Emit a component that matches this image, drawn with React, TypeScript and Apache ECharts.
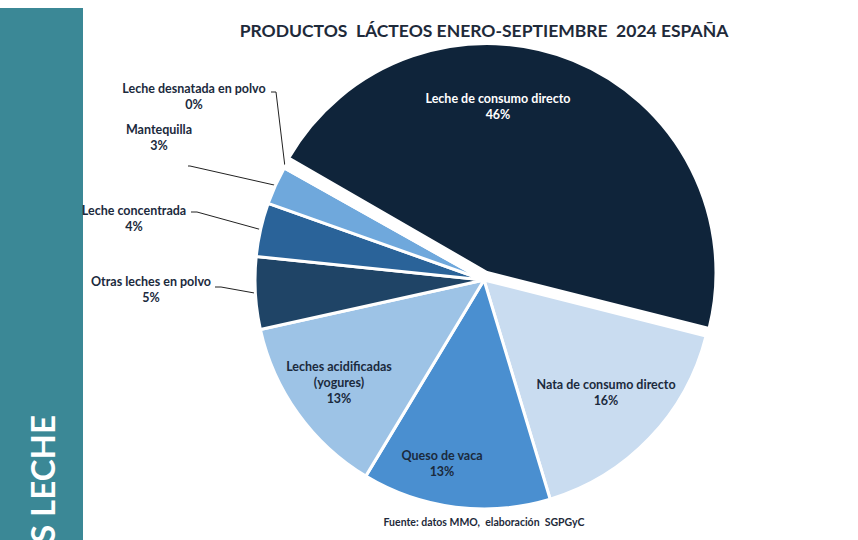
import React, { useEffect, useRef } from "react";
import * as echarts from "echarts";

const categories = [
  "Leche de consumo directo",
  "Nata de consumo directo",
  "Queso de vaca",
  "Leches acidificadas (yogures)",
  "Otras leches en polvo",
  "Leche concentrada",
  "Mantequilla",
  "Leche desnatada en polvo",
];
const values = [45.6, 16.4, 13.3, 12.9, 5.1, 3.8, 2.7, 0.2];
const colors = ["#0f243a", "#c9dcf0", "#4a8fd0", "#9dc3e6", "#1f4466", "#2a6399", "#6fa8dc", "#deebf7"];
const insideLabel = [true, true, true, true, false, false, false, false];
const exploded = [true, false, false, false, false, false, false, false];

const titleText = "PRODUCTOS  LÁCTEOS ENERO-SEPTIEMBRE  2024 ESPAÑA";
const sourceText = "Fuente: datos MMO,  elaboración  SGPGyC";
const bandText = "S LECHE";

// label placement (style)
const labelPos: number[][] = [
  [498, 106], [606, 392], [442, 463], [339, 382],
  [151, 289], [134, 218], [159, 137], [194, 96],
];
const linePts: (number[][] | null)[] = [
  null, null, null, null,
  [[221, 287], [215, 287]],
  [[197, 212], [191, 212]],
  [[190, 166], [188, 166]],
  [[276, 92], [271, 92]],
];

export default function App() {
  const ref = useRef<HTMLDivElement>(null);
  useEffect(() => {
    if (!ref.current) return;
    const chart = echarts.init(ref.current, null, { renderer: "svg" });
    const txtColor = "#1b2a3d";
    const makeData = (explodedLayer: boolean) =>
      categories.map((name, i) => {
        const visible = exploded[i] === explodedLayer;
        return {
          name,
          value: values[i],
          itemStyle: visible
            ? { color: colors[i], borderColor: "#ffffff", borderWidth: 3 }
            : { color: "rgba(0,0,0,0)", borderWidth: 0 },
          label: {
            show: visible,
            position: insideLabel[i] ? "inside" : "outside",
            color: i === 0 ? "#ffffff" : txtColor,
          },
          labelLine: { show: visible && !insideLabel[i] },
        };
      });
    const baseSeries = {
      type: "pie",
      radius: 229,
      startAngle: 150,
      clockwise: true,
      avoidLabelOverlap: false,
      silent: true,
      emphasis: { disabled: true },
      label: {
        fontFamily: "Lato",
        fontWeight: "bold",
        fontSize: 12.5,
        lineHeight: 16,
        align: "center",
        formatter: (p: any) => `${String(p.name).replace(" (", "\n(")}\n${Math.round(p.percent)}%`,
      },
      labelLine: { lineStyle: { color: "#222222", width: 1 }, length: 10, length2: 10 },
      labelLayout: (p: any) => {
        const i = p.dataIndex;
        const pos = labelPos[i];
        const res: any = { x: pos[0], y: pos[1], align: "center", verticalAlign: "middle" };
        const lp = linePts[i];
        if (lp && p.labelLinePoints) {
          res.labelLinePoints = [p.labelLinePoints[0], lp[0], lp[1]];
        }
        return res;
      },
    };
    chart.setOption({
      animation: false,
      backgroundColor: "#ffffff",
      graphic: [
        { type: "rect", shape: { x: 0, y: 8, width: 83, height: 540 }, style: { fill: "#3b8896" } },
        {
          type: "text", x: 42, y: 543, rotation: Math.PI / 2,
          style: { text: bandText, fill: "#ffffff", font: "bold 33px Lato", textAlign: "left", textVerticalAlign: "middle" },
        },
        {
          type: "text", x: 484, y: 30,
          style: { text: titleText, fill: "#1e2a3a", font: "bold 17.5px Lato", textAlign: "center", textVerticalAlign: "middle" },
        },
        {
          type: "text", x: 484, y: 522,
          style: { text: sourceText, fill: "#1e2a3a", font: "bold 10.5px Lato", textAlign: "center", textVerticalAlign: "middle" },
        },
      ],
      series: [
        { ...baseSeries, name: "base", center: [484, 280], data: makeData(false) },
        { ...baseSeries, name: "exploded", center: [487, 272.5], data: makeData(true) },
      ],
    });
    return () => chart.dispose();
  }, []);
  return <div ref={ref} style={{ position: "fixed", left: 0, top: 0, width: 858, height: 540 }} />;
}
